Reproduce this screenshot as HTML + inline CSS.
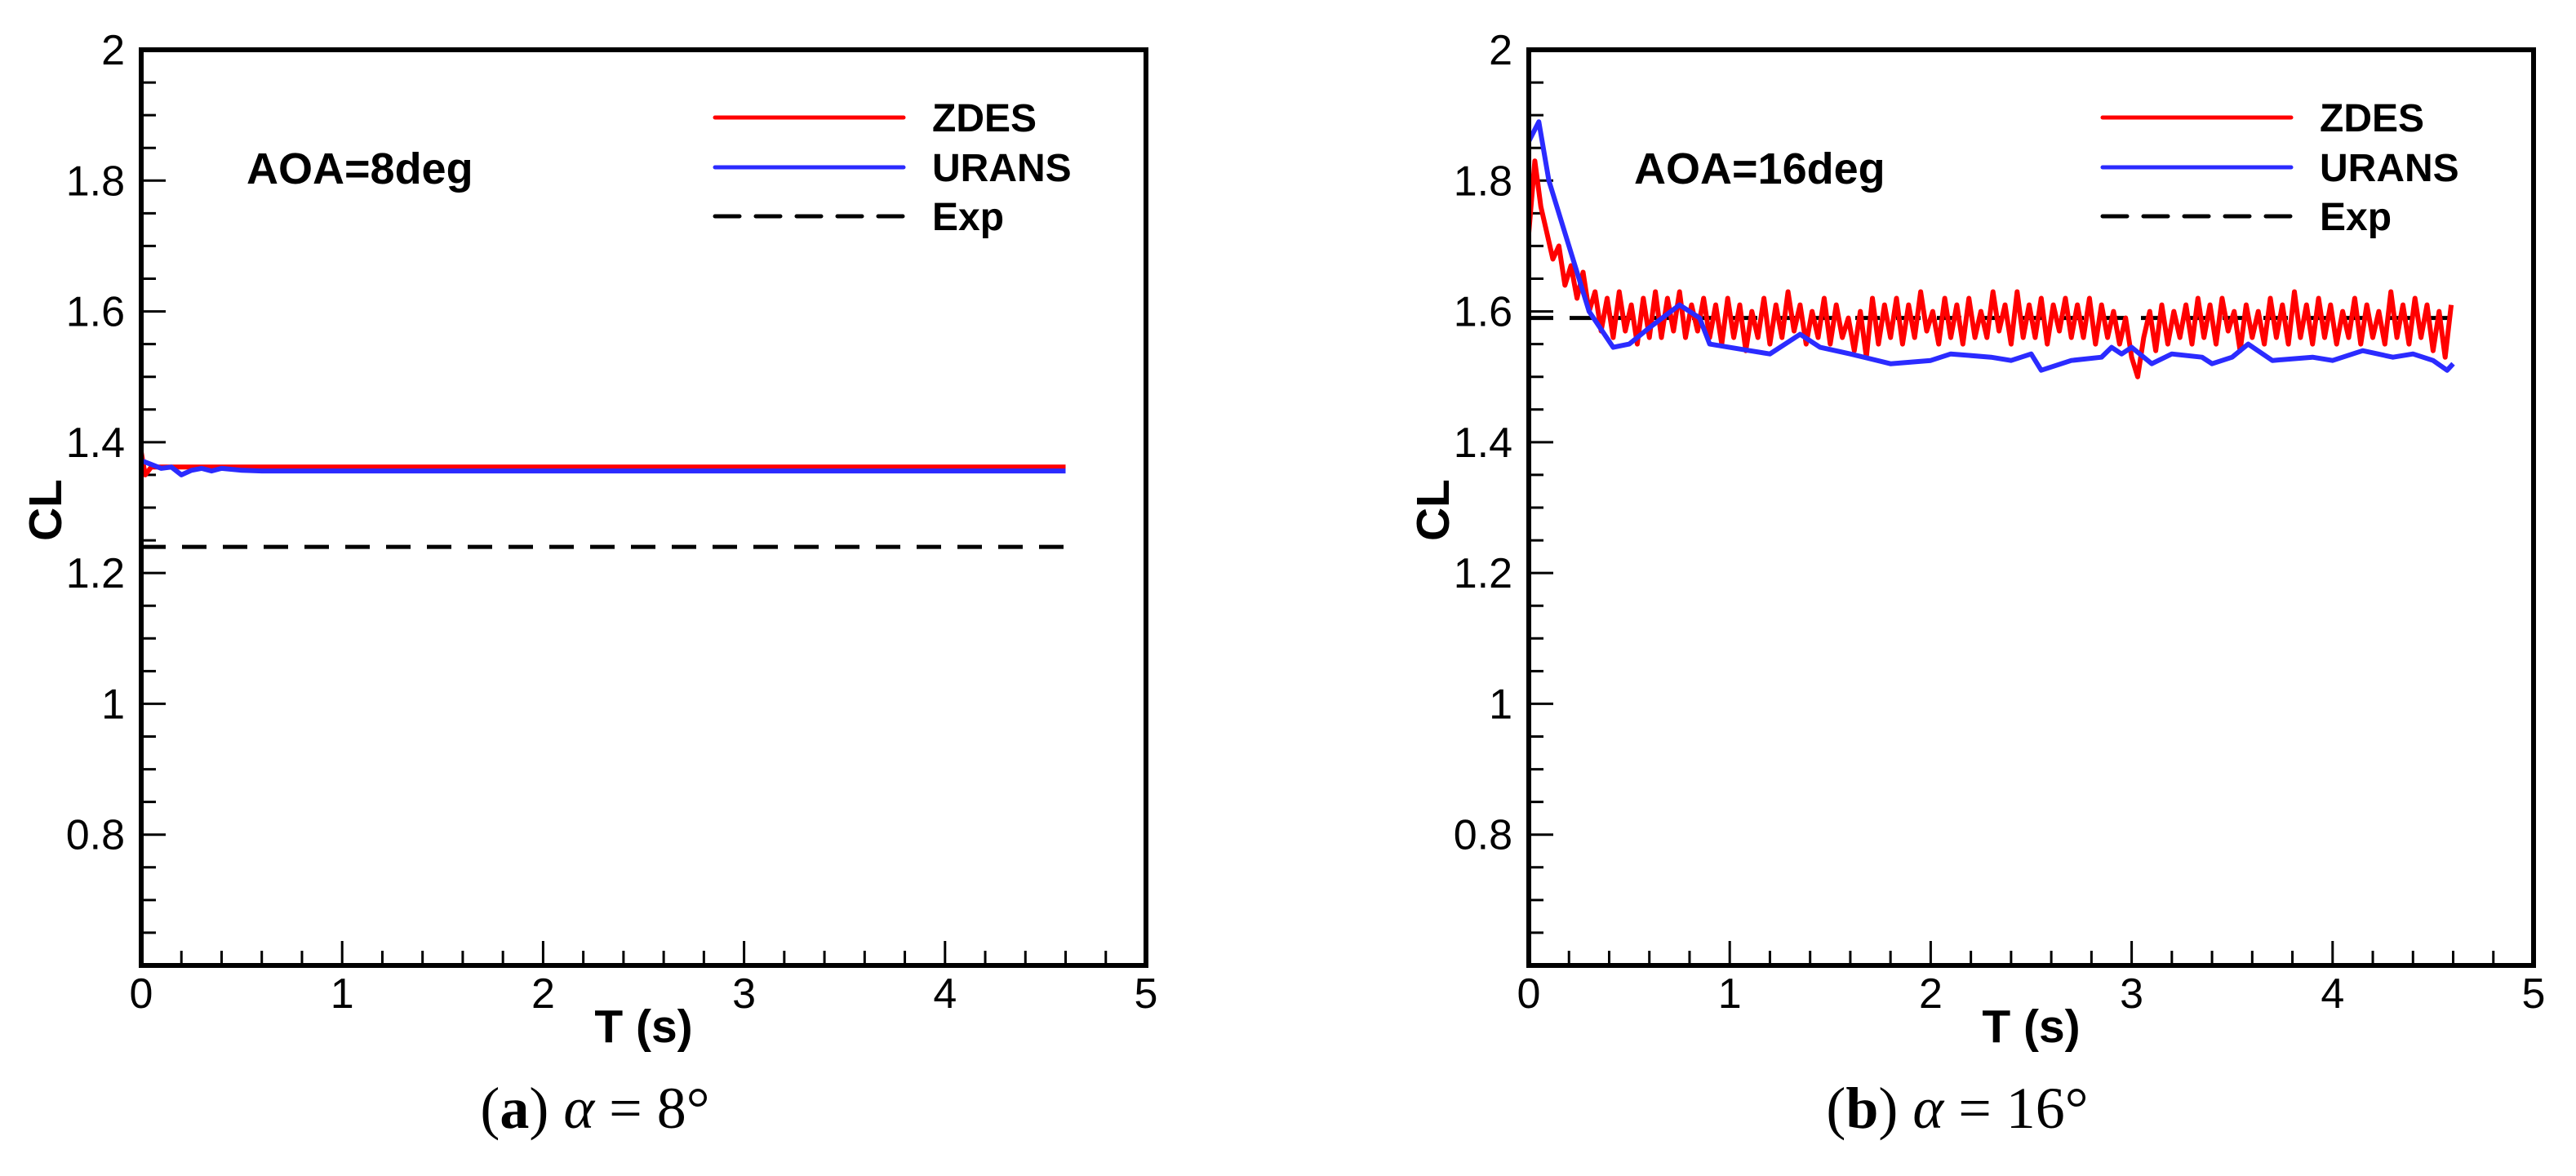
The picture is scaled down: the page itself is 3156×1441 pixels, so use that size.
<!DOCTYPE html>
<html><head><meta charset="utf-8"><style>
html,body{margin:0;padding:0;background:#fff;}
svg{display:block;}
</style></head><body>
<svg id="fig" width="3156" height="1441" viewBox="0 0 3156 1441" xmlns="http://www.w3.org/2000/svg" font-family="Liberation Sans, sans-serif">
<rect width="3156" height="1441" fill="#fff"/>
<g id="pa"></g>
<g id="pb"></g>
<text x="729" y="1382" font-family="Liberation Serif, serif" font-size="72" text-anchor="middle">(<tspan font-weight="bold">a</tspan>) <tspan font-style="italic">α</tspan> = 8°</text>
<text x="2398" y="1382" font-family="Liberation Serif, serif" font-size="72" text-anchor="middle">(<tspan font-weight="bold">b</tspan>) <tspan font-style="italic">α</tspan> = 16°</text>
</svg>
<script>
const xTicks = [0,1,2,3,4,5];
const yTicks = [0.8,1,1.2,1.4,1.6,1.8,2];
const yTickLabels = ["0.8","1","1.2","1.4","1.6","1.8","2"];
// Panel a
const aZdesT = [0,0.02,0.05,0.1,0.5,1,2,3,4,4.6];
const aZdesV = [1.385,1.35,1.362,1.362,1.362,1.362,1.362,1.362,1.362,1.362];
const aUransT = [0,0.05,0.1,0.15,0.2,0.25,0.3,0.35,0.4,0.5,0.6,0.8,1,2,3,4,4.6];
const aUransV = [1.372,1.366,1.360,1.362,1.350,1.357,1.360,1.356,1.360,1.357,1.356,1.356,1.356,1.356,1.356,1.356,1.356];
const aExp = 1.24;
// Panel b
const bZdesV = [1.72,1.83,1.76,1.72,1.68,1.70,1.64,1.67,1.62,1.66,1.60,
1.63,1.57,1.62,1.56,1.63,1.57,1.61,1.55,1.62,1.56,
1.63,1.56,1.62,1.57,1.63,1.56,1.61,1.57,1.62,1.56,
1.61,1.55,1.62,1.56,1.61,1.54,1.60,1.56,1.62,1.55,
1.61,1.56,1.63,1.57,1.61,1.55,1.60,1.56,1.62,1.55,
1.61,1.56,1.59,1.54,1.60,1.53,1.62,1.55,1.61,1.56,
1.62,1.55,1.61,1.56,1.63,1.57,1.60,1.55,1.62,1.56,
1.61,1.55,1.62,1.56,1.60,1.56,1.63,1.57,1.61,1.55,
1.63,1.56,1.61,1.56,1.62,1.55,1.61,1.57,1.62,1.56,
1.61,1.56,1.62,1.55,1.61,1.56,1.60,1.55,1.59,1.53,
1.50,1.56,1.60,1.54,1.61,1.55,1.60,1.56,1.61,1.55,
1.62,1.56,1.61,1.55,1.62,1.57,1.60,1.54,1.61,1.56,
1.60,1.55,1.62,1.56,1.61,1.55,1.63,1.56,1.61,1.55,
1.62,1.56,1.61,1.55,1.60,1.56,1.62,1.55,1.61,1.56,
1.60,1.55,1.63,1.56,1.61,1.55,1.62,1.56,1.61,1.54,
1.60,1.53,1.61];
const bZdesDt = 0.03;
const bUransT = [0,0.05,0.1,0.2,0.3,0.42,0.5,0.6,0.75,0.85,0.9,1.1,1.2,1.3,1.35,1.45,1.6,1.8,2.0,2.1,2.3,2.4,2.5,2.55,2.7,2.85,2.9,2.95,3.0,3.1,3.2,3.35,3.4,3.5,3.58,3.7,3.9,4.0,4.15,4.3,4.4,4.5,4.57,4.6];
const bUransV = [1.86,1.89,1.80,1.70,1.60,1.545,1.55,1.575,1.61,1.59,1.55,1.54,1.535,1.555,1.565,1.545,1.535,1.52,1.525,1.535,1.53,1.525,1.535,1.51,1.525,1.53,1.545,1.535,1.545,1.52,1.535,1.53,1.52,1.53,1.55,1.525,1.53,1.525,1.54,1.53,1.535,1.525,1.51,1.52];
const bExp = 1.59;

const NS="http://www.w3.org/2000/svg";
function mk(parent,tag,attrs,text){const e=document.createElementNS(NS,tag);for(const k in attrs)e.setAttribute(k,attrs[k]);if(text!==undefined)e.textContent=text;parent.appendChild(e);return e;}

function drawPanel(g,L,aoaText,zT,zV,uT,uV,expV){
  const R=L+1231,T=61,B=1183;
  const sx=v=>L+(v-0)/5*(R-L);
  const sy=v=>B-(v-0.6)/1.4*(B-T);
  for(let i=0;i<=25;i++){const x=sx(i*0.2);const len=(i%5===0)?30:18;
    const t=mk(g,'line',{x1:x,y1:B,x2:x,y2:B-len,stroke:'#000','stroke-width':3});
    
    }
  for(let i=0;i<=28;i++){const v=0.6+i*0.05;const y=sy(v);const len=(i%4===0)?30:18;
    const t=mk(g,'line',{x1:L,y1:y,x2:L+len,y2:y,stroke:'#000','stroke-width':3});
    
    }
  xTicks.forEach(v=>{const t=mk(g,'text',{x:sx(v),y:1235,'font-size':52,'text-anchor':'middle'},String(v));
    
    });
  yTicks.forEach((v,i)=>{const t=mk(g,'text',{x:L-20,y:sy(v)+18,'font-size':52,'text-anchor':'end'},yTickLabels[i]);
    
    });
  const xt=mk(g,'text',{x:(L+R)/2,y:1277,'font-size':57,'font-weight':'bold','text-anchor':'middle'},'T (s)');
  
  
  const yt=mk(g,'text',{x:0,y:0,'font-size':57,'font-weight':'bold','text-anchor':'middle',transform:`translate(${L-98},625) rotate(-90)`},'CL');
  
  
  const ex=mk(g,'line',{x1:sx(0),y1:sy(expV),x2:sx(4.6),y2:sy(expV),stroke:'#000','stroke-width':5,'stroke-dasharray':'30 20'});
  
  
  const pts=(ts,vs)=>ts.map((t,i)=>sx(t).toFixed(1)+','+sy(vs[i]).toFixed(1)).join(' ');
  const zl=mk(g,'polyline',{points:pts(zT,zV),fill:'none',stroke:'#ff0000','stroke-width':6,'stroke-linejoin':'round'});
  
  
  const ul=mk(g,'polyline',{points:pts(uT,uV),fill:'none',stroke:'#2b2bff','stroke-width':6,'stroke-linejoin':'round'});
  
  
  const fr=mk(g,'rect',{x:L,y:T,width:R-L,height:B-T,fill:'none',stroke:'#000','stroke-width':6});
  
  
  const ao=mk(g,'text',{x:L+129,y:225,'font-size':54,'font-weight':'bold'},aoaText);
  
  
  const lx=L+703;
  const items=[['ZDES','#ff0000',null,144],['URANS','#2b2bff',null,205],['Exp','#000','30 20',265]];
  items.forEach(it=>{
    const ln=mk(g,'line',{x1:lx,y1:it[3],x2:lx+231,y2:it[3],stroke:it[1],'stroke-width':5,'stroke-linecap':'round'});
    if(it[2])ln.setAttribute('stroke-dasharray',it[2]);
    
    
    const tx=mk(g,'text',{x:lx+266,y:it[3]+17,'font-size':48,'font-weight':'bold'},it[0]);
    
    
  });
}
drawPanel(document.getElementById('pa'),173,'AOA=8deg',aZdesT,aZdesV,aUransT,aUransV,aExp);
const bZdesT=bZdesV.map((v,i)=>i*bZdesDt);
drawPanel(document.getElementById('pb'),1873,'AOA=16deg',bZdesT,bZdesV,bUransT,bUransV,bExp);
</script>
</body></html>
